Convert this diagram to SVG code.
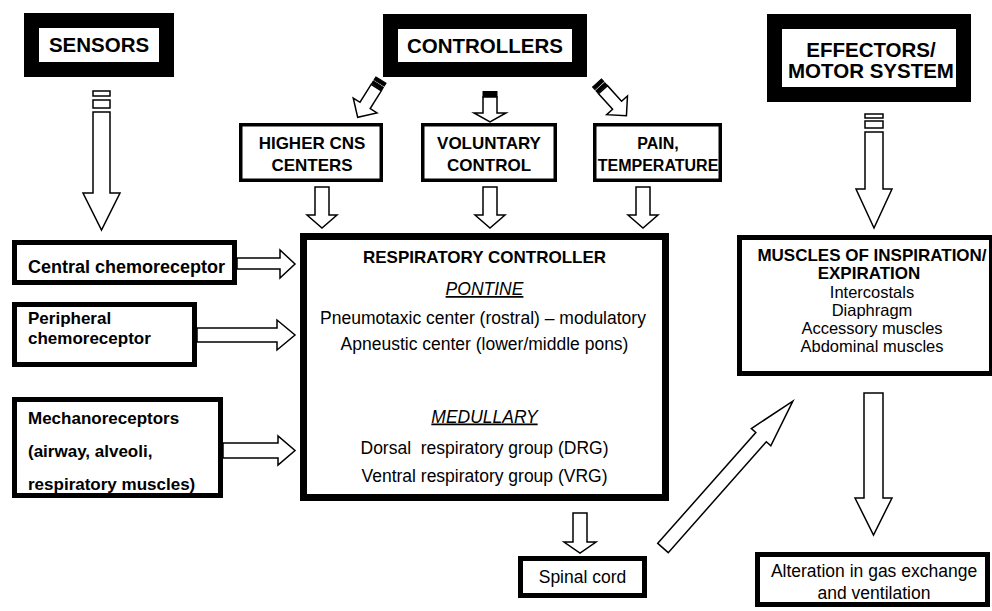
<svg xmlns="http://www.w3.org/2000/svg" width="992" height="611" viewBox="0 0 992 611">
<style>
  text { font-family: "Liberation Sans", Arial, sans-serif; fill: #000; }
  .hdr { font-size: 20.5px; font-weight: bold; text-anchor: middle; }
  .b { font-size: 17px; font-weight: bold; }
  .c { text-anchor: middle; }
  .r { font-size: 17.5px; }
  .m { font-size: 16.5px; }
  .frame { fill: #fff; stroke: #000; stroke-width: 15; }
  .thin { fill: #fff; stroke: #000; stroke-width: 3.5; }
  .mid { fill: #fff; stroke: #000; stroke-width: 5; }
  .thick { fill: #fff; stroke: #000; stroke-width: 7; }
  .arr { fill: #fff; stroke: #000; stroke-width: 1.5; stroke-linejoin: miter; }
  .bar { fill: #000; stroke: #000; stroke-width: 1; }
</style>
<defs>
  <g id="smallDiag">
    <rect class="bar" x="-6" y="0" width="12" height="3.5"/>
    <rect class="bar" x="-6" y="5" width="12" height="3"/>
    <path class="arr" d="M-6,9 H6 V30 H14 L0,44 L-14,30 H-6 Z"/>
  </g>
</defs>
<rect width="992" height="611" fill="#fff"/>

<g id="sensors">
  <rect class="frame" x="31.5" y="20.5" width="135" height="49"/>
  <text class="hdr" x="99" y="52">SENSORS</text>
</g>
<g id="controllers">
  <rect class="frame" x="390.5" y="21.5" width="189" height="48"/>
  <text class="hdr" x="485" y="53">CONTROLLERS</text>
</g>
<g id="effectors">
  <rect class="frame" x="774.5" y="21.5" width="189" height="73"/>
  <text class="hdr" x="871" y="57">EFFECTORS/</text>
  <text class="hdr" x="871" y="78">MOTOR SYSTEM</text>
</g>

<g id="higher-cns">
  <rect class="thin" x="240.75" y="124.75" width="140.5" height="55.5"/>
  <text class="b c" x="312" y="149">HIGHER CNS</text>
  <text class="b c" x="312" y="171">CENTERS</text>
</g>
<g id="voluntary">
  <rect class="thin" x="422.75" y="124.75" width="132.5" height="55.5"/>
  <text class="b c" x="489" y="149">VOLUNTARY</text>
  <text class="b c" x="489" y="171">CONTROL</text>
</g>
<g id="pain">
  <rect class="thin" x="594.75" y="124.75" width="125.5" height="55.5"/>
  <text class="b c" x="658" y="149" style="font-size:16px">PAIN,</text>
  <text class="b c" x="658" y="171" style="font-size:16px">TEMPERATURE</text>
</g>

<g id="central-chemo">
  <rect class="mid" x="14.5" y="242.5" width="220" height="40"/>
  <text class="b" x="28" y="273" style="font-size:18px">Central chemoreceptor</text>
</g>
<g id="peripheral-chemo">
  <rect class="mid" x="14.5" y="304.5" width="180" height="60"/>
  <text class="b" x="28" y="324">Peripheral</text>
  <text class="b" x="28" y="344">chemoreceptor</text>
</g>
<g id="mechano">
  <rect class="mid" x="14.5" y="399.5" width="206" height="96"/>
  <text class="b" x="28" y="424">Mechanoreceptors</text>
  <text class="b" x="28" y="457">(airway, alveoli,</text>
  <text class="b" x="28" y="490">respiratory muscles)</text>
</g>

<g id="resp-controller">
  <rect class="thick" x="303.5" y="236.5" width="362" height="261"/>
  <text class="b c" x="484.5" y="263">RESPIRATORY CONTROLLER</text>
  <text class="r c" x="484.5" y="295" font-style="italic" text-decoration="underline">PONTINE</text>
  <text class="r c" x="483" y="324">Pneumotaxic center (rostral) – modulatory</text>
  <text class="r c" x="484.5" y="350">Apneustic center (lower/middle pons)</text>
  <text class="r c" x="484.5" y="422.5" font-style="italic" text-decoration="underline">MEDULLARY</text>
  <text class="r c" x="484.5" y="454" xml:space="preserve">Dorsal  respiratory group (DRG)</text>
  <text class="r c" x="484.5" y="481.5">Ventral respiratory group (VRG)</text>
</g>

<g id="muscles">
  <rect class="mid" x="739.5" y="237.5" width="252" height="136"/>
  <text class="b c" x="872" y="261">MUSCLES OF INSPIRATION/</text>
  <text class="b c" x="869" y="279">EXPIRATION</text>
  <text class="m c" x="872" y="298">Intercostals</text>
  <text class="m c" x="872" y="316">Diaphragm</text>
  <text class="m c" x="872" y="334">Accessory muscles</text>
  <text class="m c" x="872" y="352">Abdominal muscles</text>
</g>

<g id="spinal-cord">
  <rect class="mid" x="520.5" y="558.5" width="124" height="37"/>
  <text class="r c" x="582.5" y="583">Spinal cord</text>
</g>

<g id="alteration">
  <rect class="mid" x="757.5" y="554.5" width="230" height="50"/>
  <text class="r c" x="874" y="577">Alteration in gas exchange</text>
  <text class="r c" x="874" y="598.5">and ventilation</text>
</g>

<g id="connectors">
  <!-- sensors down arrow -->
  <rect class="arr" x="93" y="91" width="17" height="5"/>
  <rect class="arr" x="93" y="100" width="17" height="8"/>
  <path class="arr" d="M93,112 H110 V193 H120 L101.5,230 L83,193 H93 Z"/>
  <!-- effectors down arrow -->
  <rect class="arr" x="865" y="114" width="18" height="4"/>
  <rect class="arr" x="865" y="121" width="18" height="7"/>
  <path class="arr" d="M865,132 H883 V189 H892 L874,228 L856,189 H865 Z"/>
  <!-- controllers to sub-boxes -->
  <use href="#smallDiag" transform="translate(381,80) rotate(32)"/>
  <use href="#smallDiag" transform="translate(597,83) rotate(-42)"/>
  <rect class="bar" x="483" y="91.5" width="14" height="5.5"/>
  <path class="arr" d="M483,97 H497 V113 H506 L490,122 L474,113 H483 Z"/>
  <!-- sub-boxes to controller -->
  <path class="arr" d="M315,187 H329 V215 H337 L322,228 L307,215 H315 Z"/>
  <path class="arr" d="M483,187 H497 V215 H505 L490,228 L475,215 H483 Z"/>
  <path class="arr" d="M636,187 H650 V215 H658 L643,228 L628,215 H636 Z"/>
  <!-- sensors boxes to controller -->
  <path class="arr" d="M237,258 H280 V250 L295,264 L280,278 V269 H237 Z"/>
  <path class="arr" d="M197,328 H277 V320 L295,335 L277,350 V342 H197 Z"/>
  <path class="arr" d="M223,443 H278 V436 L295,450.5 L278,465 V458 H223 Z"/>
  <!-- controller to spinal cord -->
  <path class="arr" d="M573,513 H587 V542 H596 L580,553 L564,542 H573 Z"/>
  <!-- spinal cord to muscles -->
  <path class="arr" transform="translate(663,548) rotate(-48.5)" d="M0,-7 H148 V-13 L196,0 L148,13 V7 H0 Z"/>
  <!-- muscles to alteration -->
  <path class="arr" d="M864,393 H883 V498 H892 L873.5,535 L855,498 H864 Z"/>
</g>
</svg>
